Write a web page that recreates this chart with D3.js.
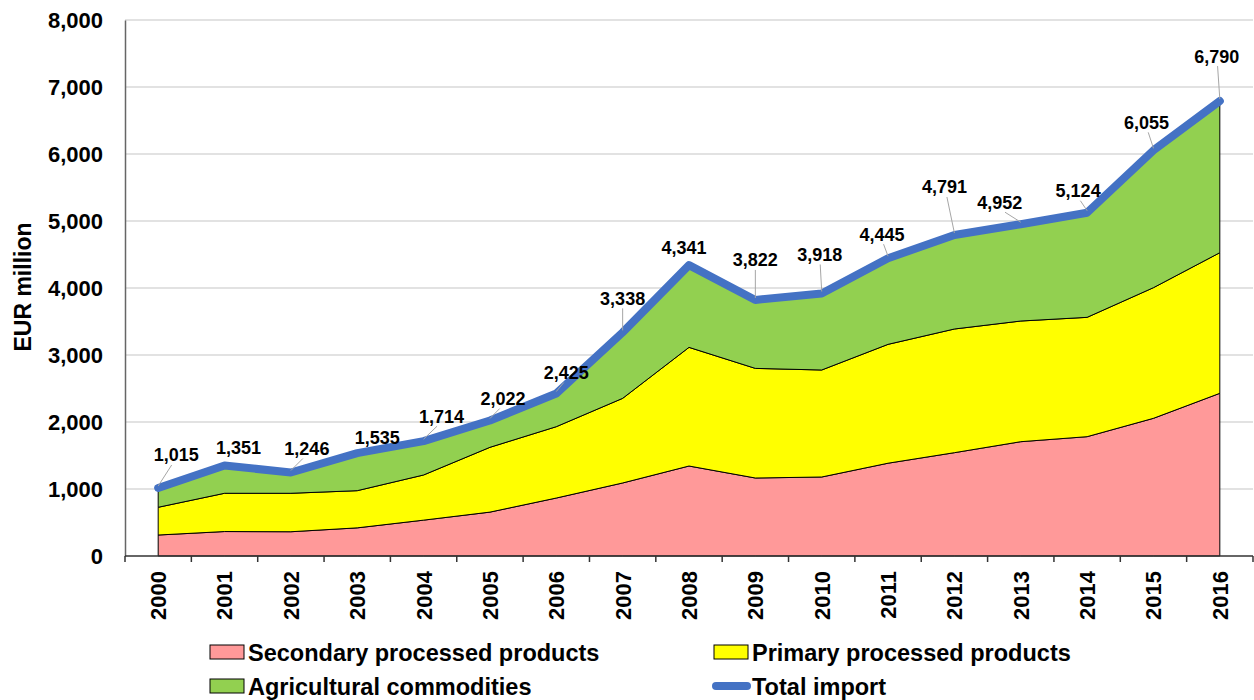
<!DOCTYPE html>
<html>
<head>
<meta charset="utf-8">
<script src="https://cdn.jsdelivr.net/npm/d3@7"></script>
<style>
  body { margin: 0; background: #fff; }
  text { font-family: "Liberation Sans", Arial, sans-serif; font-weight: bold; }
</style>
</head>
<body>
<div id="chart"></div>
<script>
// data (EUR million)
const years = ["2000", "2001", "2002", "2003", "2004", "2005", "2006", "2007", "2008",
               "2009", "2010", "2011", "2012", "2013", "2014", "2015", "2016"];
const secondary = [313, 365, 362, 420, 535, 655, 865, 1090, 1343, 1164, 1179, 1385, 1542, 1706, 1781, 2055, 2428];
const primary = [414, 571, 574, 555, 674, 967, 1065, 1263, 1771, 1636, 1597, 1774, 1846, 1801, 1781, 1950, 2099];
const agricultural = [288, 415, 310, 560, 505, 400, 495, 985, 1227, 1022, 1142, 1286, 1403, 1445, 1562, 2050, 2263];
const total = [1015, 1351, 1246, 1535, 1714, 2022, 2425, 3338, 4341, 3822, 3918, 4445, 4791, 4952, 5124, 6055, 6790];
const yTicks = [0, 1000, 2000, 3000, 4000, 5000, 6000, 7000, 8000];

// label placement relative to the point (layout, not data)
const labelOffsets = [[18, -33], [14, -18], [16, -24], [20, -16], [18, -25], [13, -22], [10, -21], [0, -34],
                      [-5, -18], [0, -40], [-2, -39], [-6, -24], [-10, -48], [-21, -22], [-9, -22], [-7, -28], [-3, -45]];

const chartW = 1254;
const chartH = 700;
const plotLeft = 125, plotRight = 1253, plotTop = 20, plotBottom = 556;

const svg = d3.select("#chart")
  .append("svg")
  .attr("width", chartW)
  .attr("height", chartH);

const x = d3.scaleBand().domain(years).range([plotLeft, plotRight]).padding(0);
const cx = d => x(d) + x.bandwidth() / 2;
const y = d3.scaleLinear().domain([0, 8000]).range([plotBottom, plotTop]);

// gridlines
svg.append("g")
  .selectAll("line")
  .data(yTicks.slice(1))
  .join("line")
  .attr("x1", plotLeft).attr("x2", plotRight)
  .attr("y1", d => y(d)).attr("y2", d => y(d))
  .attr("stroke", "#d9d9d9")
  .attr("stroke-width", 1.5);

// stacked areas
const keys = ["secondary", "primary", "agricultural"];
const colors = { secondary: "#ff9999", primary: "#ffff00", agricultural: "#92d050" };
const rows = years.map((yr, i) => ({
  year: yr,
  secondary: secondary[i],
  primary: primary[i],
  agricultural: agricultural[i]
}));
const series = d3.stack().keys(keys)(rows);

const area = d3.area()
  .x(d => cx(d.data.year))
  .y0(d => y(d[0]))
  .y1(d => y(d[1]));

svg.append("g")
  .selectAll("path")
  .data(series)
  .join("path")
  .attr("d", area)
  .attr("fill", d => colors[d.key])
  .attr("stroke", "#000")
  .attr("stroke-width", 1);

// axes
const yAxis = svg.append("g")
  .attr("transform", `translate(${plotLeft},0)`)
  .call(d3.axisLeft(y).tickValues(yTicks).tickSize(0).tickPadding(22).tickFormat(d3.format(",")));
yAxis.select(".domain").attr("stroke", "#666").attr("stroke-width", 1.5);
yAxis.selectAll("text").attr("font-size", 22).attr("fill", "#000")
  .style("font-family", "'Liberation Sans', Arial, sans-serif").style("font-weight", "bold");

const xAxis = svg.append("g").attr("transform", `translate(0,${plotBottom})`);
xAxis.append("line")
  .attr("x1", plotLeft).attr("x2", plotRight)
  .attr("stroke", "#333").attr("stroke-width", 1.5);
xAxis.selectAll(".tk")
  .data(years.concat(["end"]))
  .join("line")
  .attr("class", "tk")
  .attr("x1", (d, i) => i < years.length ? x(d) : plotRight)
  .attr("x2", (d, i) => i < years.length ? x(d) : plotRight)
  .attr("y1", 0).attr("y2", 6)
  .attr("stroke", "#333").attr("stroke-width", 1.5);
xAxis.selectAll(".lbl")
  .data(years)
  .join("text")
  .attr("class", "lbl")
  .attr("transform", d => `translate(${cx(d)},15) rotate(-90)`)
  .attr("text-anchor", "end")
  .attr("dy", "0.36em")
  .attr("font-size", 22)
  .text(d => d);

// y axis title
svg.append("text")
  .attr("transform", "translate(31,287) rotate(-90)")
  .attr("text-anchor", "middle")
  .attr("font-size", 23)
  .text("EUR million");

// total import line
const line = d3.line()
  .x((d, i) => cx(years[i]))
  .y(d => y(d));

svg.append("path")
  .datum(total)
  .attr("d", line)
  .attr("fill", "none")
  .attr("stroke", "#4472c4")
  .attr("stroke-width", 8)
  .attr("stroke-linejoin", "round")
  .attr("stroke-linecap", "round");

// data labels with leader lines
const labels = svg.append("g");
total.forEach((v, i) => {
  const px = cx(years[i]), py = y(v);
  const lx = px + labelOffsets[i][0], ly = py + labelOffsets[i][1];
  if (labelOffsets[i][1] < -20) {
    labels.append("line")
      .attr("x1", px).attr("y1", py - 2)
      .attr("x2", lx + (px - lx) * 0.25).attr("y2", ly + 10)
      .attr("stroke", "#a6a6a6")
      .attr("stroke-width", 1);
  }
  labels.append("text")
    .attr("x", lx).attr("y", ly)
    .attr("dy", "0.36em")
    .attr("text-anchor", "middle")
    .attr("font-size", 18)
    .text(d3.format(",")(v));
});

// legend
const legendItems = [
  { name: "Secondary processed products", key: "secondary", x: 210, y: 652 },
  { name: "Primary processed products", key: "primary", x: 714, y: 652 },
  { name: "Agricultural commodities", key: "agricultural", x: 210, y: 686 },
  { name: "Total import", key: "total", x: 714, y: 686 }
];
const legend = svg.append("g");
legendItems.forEach(it => {
  if (it.key === "total") {
    legend.append("line")
      .attr("x1", it.x + 2).attr("x2", it.x + 33)
      .attr("y1", it.y).attr("y2", it.y)
      .attr("stroke", "#4472c4").attr("stroke-width", 8).attr("stroke-linecap", "round");
  } else {
    legend.append("rect")
      .attr("x", it.x).attr("y", it.y - 7)
      .attr("width", 34).attr("height", 14)
      .attr("fill", colors[it.key])
      .attr("stroke", "#000").attr("stroke-width", 1);
  }
  legend.append("text")
    .attr("transform", `translate(${it.x + 38},${it.y}) scale(0.98,1)`)
    .attr("dy", "0.36em")
    .attr("font-size", 24)
    .text(it.name);
});
</script>
</body>
</html>
